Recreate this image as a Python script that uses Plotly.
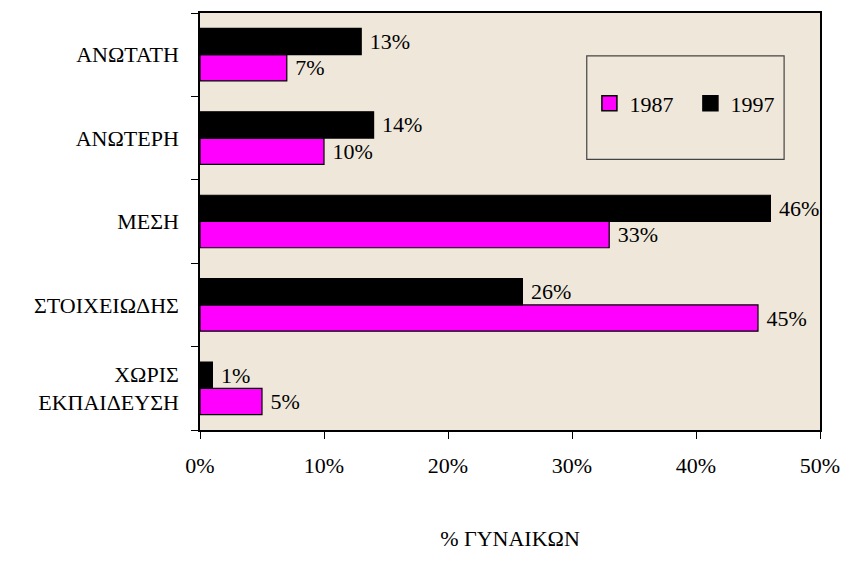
import plotly.graph_objects as go

categories = ["ΧΩΡΙΣ<br>ΕΚΠΑΙΔΕΥΣΗ", "ΣΤΟΙΧΕΙΩΔΗΣ", "ΜΕΣΗ", "ΑΝΩΤΕΡΗ", "ΑΝΩΤΑΤΗ"]
values_1987 = [5, 45, 33, 10, 7]
values_1997 = [1, 26, 46, 14, 13]
x_ticks = [0, 10, 20, 30, 40, 50]
x_tick_labels = ["0%", "10%", "20%", "30%", "40%", "50%"]
series_names = ["1987", "1997"]
series_colors = ["#FF00FF", "#000000"]

FONT = "Times New Roman"
FS = 22

fig = go.Figure()
for name, vals, col in zip(series_names, [values_1987, values_1997], series_colors):
    fig.add_trace(go.Bar(
        y=categories, x=vals, name=name, orientation="h", showlegend=False,
        marker=dict(color=col, line=dict(color="#000000", width=1.2)),
        text=[f"\u00a0{v}%" for v in vals], textposition="outside",
        textfont=dict(family=FONT, size=FS, color="#000"), cliponaxis=False,
    ))
# legend-only entries with larger square swatches
for name, col in zip(series_names, series_colors):
    fig.add_trace(go.Scatter(
        x=[None], y=[None], name=name, mode="markers",
        marker=dict(symbol="square", size=15, color=col, line=dict(color="#000", width=1.5)),
    ))

fig.update_layout(
    width=851, height=567,
    margin=dict(l=200, r=29, t=11, b=137),
    paper_bgcolor="white", plot_bgcolor="#EFE8DA",
    barmode="group", bargap=0.37, bargroupgap=0,
    font=dict(family=FONT, size=FS, color="#000"),
    showlegend=True,
    legend=dict(orientation="h", x=0.791, xanchor="center", y=0.783, yanchor="middle",
                bgcolor="rgba(0,0,0,0)", borderwidth=0, font=dict(family=FONT, size=FS),
                traceorder="normal", entrywidth=56, itemwidth=30),
    xaxis=dict(range=[0, 50], tickvals=x_ticks, ticktext=x_tick_labels,
               showgrid=False, zeroline=False, showline=True, linecolor="#000", linewidth=1.5,
               mirror=True, ticks="outside", ticklen=7, tickcolor="#000",
               ticklabelstandoff=8,
               title=dict(text="% ΓΥΝΑΙΚΩΝ", standoff=53, font=dict(family=FONT, size=FS))),
    yaxis=dict(categoryorder="array", categoryarray=categories,
               showgrid=False, zeroline=False, showline=True, linecolor="#000", linewidth=1.5,
               mirror=True, ticks="outside", ticklen=7, tickcolor="#000",
               tickson="boundaries", ticklabelstandoff=15),
    shapes=[dict(type="rect", xref="paper", yref="paper",
                 x0=0.6238, x1=0.9421, y0=0.649, y1=0.897,
                 line=dict(color="#444", width=1.2), fillcolor="rgba(0,0,0,0)")],
)

fig.write_html("out.html", config={"displayModeBar": False},
               post_script="document.body.style.margin='0';")
